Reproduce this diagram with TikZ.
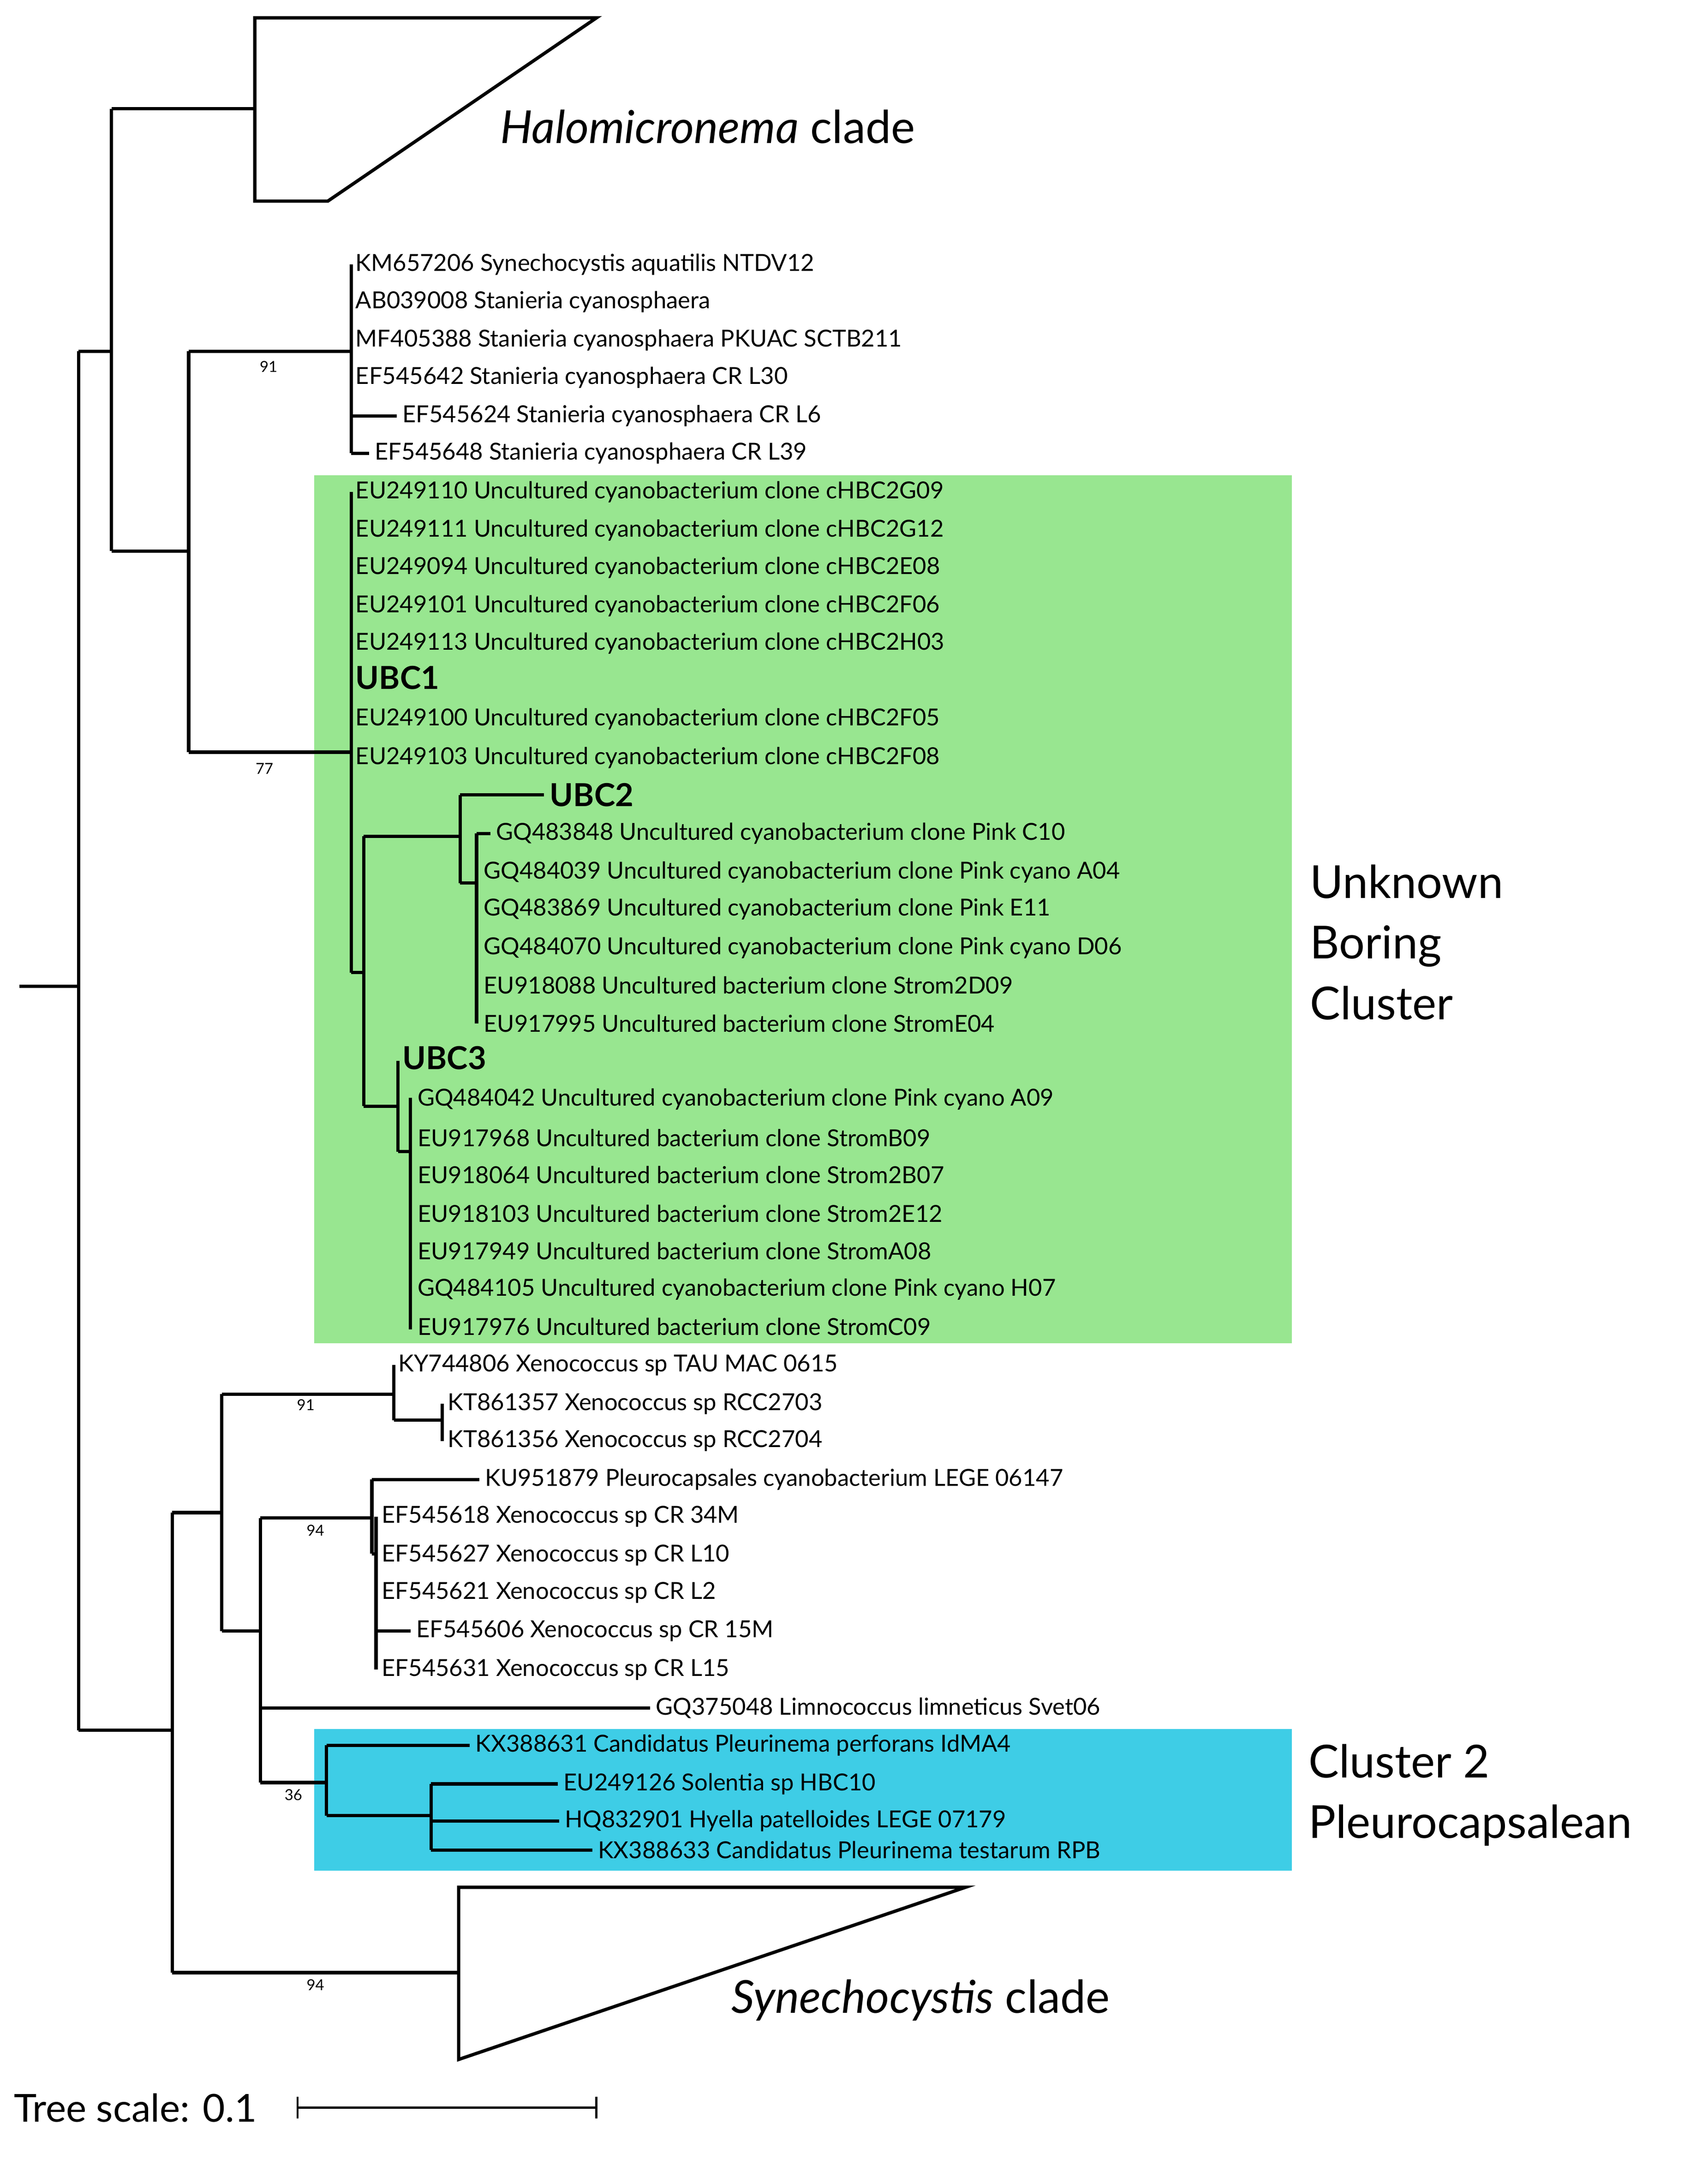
\documentclass[tikz,border=0pt]{standalone}
\usepackage{fontspec}
\setmainfont{Lato}
\begin{document}
\begin{tikzpicture}[x=1pt,y=-1pt,
  br/.style={line width=2.4pt},
  lf/.style={anchor=west,inner sep=3pt,font=\fontsize{17}{20}\selectfont},
  ubc/.style={anchor=west,inner sep=3pt,font=\fontsize{23}{26}\selectfont\bfseries},
  big/.style={anchor=west,inner sep=0pt,font=\fontsize{33}{44}\selectfont},
  bs/.style={font=\fontsize{11}{13}\selectfont,inner sep=0pt}]
\useasboundingbox (0,0) rectangle (1240,1568);
\fill[fill={rgb,255:red,152;green,230;blue,144}] (228,345) rectangle (938,975);
\fill[fill={rgb,255:red,62;green,205;blue,230}] (228,1255) rectangle (938,1358);
% triangles
\draw[br] (185,13) -- (433,13) -- (238,146) -- (185,146) -- cycle;
\node[big] (hal) at (363,92) {\textit{Halomicronema} clade};
\draw[br] (333,1370) -- (701,1370) -- (333,1495) -- cycle;
\node[big] (syn) at (531,1452) {\textit{Synechocystis} clade};
\node[big,align=left] (ubcl) at (951,684) {Unknown\\Boring\\Cluster};
\node[big,align=left] (c2) at (950,1303) {Cluster 2\\Pleurocapsalean};
% backbone
\draw[br] (14,716) -- (57,716);
\draw[br] (57,255) -- (57,1256);
\draw[br] (57,255) -- (81,255);
\draw[br] (81,79) -- (81,400);
\draw[br] (81,79) -- (185,79);
\draw[br] (81,400) -- (137,400);
\draw[br] (137,255) -- (137,546);
\draw[br] (137,255) -- (255,255); \node[bs] at (195,266) {91};
\draw[br] (255,192) -- (255,329);
\foreach \y/\t in {192/KM657206 Synechocystis aquatilis NTDV12,219/AB039008 Stanieria cyanosphaera,247/MF405388 Stanieria cyanosphaera PKUAC SCTB211,274/EF545642 Stanieria cyanosphaera CR L30}
  \node[lf] at (255,\y) {\t};
\draw[br] (255,302) -- (288,302) node[lf] {EF545624 Stanieria cyanosphaera CR L6};
\draw[br] (255,329) -- (268,329) node[lf] {EF545648 Stanieria cyanosphaera CR L39};
\draw[br] (137,546) -- (255,546); \node[bs] at (192,558) {77};
\draw[br] (255,357) -- (255,706);
\foreach \y/\t in {357/EU249110 Uncultured cyanobacterium clone cHBC2G09,385/EU249111 Uncultured cyanobacterium clone cHBC2G12,412/EU249094 Uncultured cyanobacterium clone cHBC2E08,440/EU249101 Uncultured cyanobacterium clone cHBC2F06,467/EU249113 Uncultured cyanobacterium clone cHBC2H03,522/EU249100 Uncultured cyanobacterium clone cHBC2F05,550/EU249103 Uncultured cyanobacterium clone cHBC2F08}
  \node[lf] at (255,\y) {\t};
\node[ubc] at (255,492) {UBC1};
\draw[br] (255,706) -- (264,706);
\draw[br] (264,607) -- (264,803);
\draw[br] (264,607) -- (334,607);
\draw[br] (334,577) -- (334,641);
\draw[br] (334,577) -- (395,577) node[ubc] {UBC2};
\draw[br] (334,641) -- (346,641);
\draw[br] (346,605) -- (346,743);
\draw[br] (346,605) -- (356,605) node[lf] {GQ483848 Uncultured cyanobacterium clone Pink C10};
\foreach \y/\t in {633/GQ484039 Uncultured cyanobacterium clone Pink cyano A04,660/GQ483869 Uncultured cyanobacterium clone Pink E11,688/GQ484070 Uncultured cyanobacterium clone Pink cyano D06,715/EU918088 Uncultured bacterium clone Strom2D09,743/EU917995 Uncultured bacterium clone StromE04}
  \node[lf] at (348,\y) {\t};
\draw[br] (264,803) -- (289,803);
\draw[br] (289,770) -- (289,836);
\node[ubc] at (289,768) {UBC3};
\draw[br] (289,836) -- (298,836);
\draw[br] (298,797) -- (298,965);
\foreach \y/\t in {798/GQ484042 Uncultured cyanobacterium clone Pink cyano A09,826/EU917968 Uncultured bacterium clone StromB09,853/EU918064 Uncultured bacterium clone Strom2B07,881/EU918103 Uncultured bacterium clone Strom2E12,908/EU917949 Uncultured bacterium clone StromA08,936/GQ484105 Uncultured cyanobacterium clone Pink cyano H07,963/EU917976 Uncultured bacterium clone StromC09}
  \node[lf] at (300,\y) {\t};
% lower
\draw[br] (57,1256) -- (125,1256);
\draw[br] (125,1098) -- (125,1432);
\draw[br] (125,1098) -- (161,1098);
\draw[br] (161,1012) -- (161,1184);
\draw[br] (161,1012) -- (286,1012); \node[bs] at (222,1020) {91};
\draw[br] (286,991) -- (286,1031);
\node[lf] at (286,991) {KY744806 Xenococcus sp TAU MAC 0615};
\draw[br] (286,1031) -- (321,1031);
\draw[br] (321,1019) -- (321,1046);
\node[lf] at (322,1019) {KT861357 Xenococcus sp RCC2703};
\node[lf] at (322,1046) {KT861356 Xenococcus sp RCC2704};
\draw[br] (161,1184) -- (189,1184);
\draw[br] (189,1102) -- (189,1294);
\draw[br] (189,1102) -- (270,1102); \node[bs] at (229,1111) {94};
\draw[br] (270,1074) -- (270,1128);
\draw[br] (270,1074) -- (348,1074) node[lf] {KU951879 Pleurocapsales cyanobacterium LEGE 06147};
\draw[br] (270,1128) -- (273,1128);
\draw[br] (273,1101) -- (273,1212);
\foreach \y/\t in {1101/EF545618 Xenococcus sp CR 34M,1129/EF545627 Xenococcus sp CR L10,1156/EF545621 Xenococcus sp CR L2,1212/EF545631 Xenococcus sp CR L15}
  \node[lf] at (274,\y) {\t};
\draw[br] (273,1184) -- (298,1184) node[lf] {EF545606 Xenococcus sp CR 15M};
\draw[br] (189,1240) -- (472,1240) node[lf] {GQ375048 Limnococcus limneticus Svet06};
\draw[br] (189,1294) -- (237,1294); \node[bs] at (213,1303) {36};
\draw[br] (237,1267) -- (237,1318);
\draw[br] (237,1267) -- (341,1267) node[lf] {KX388631 Candidatus Pleurinema perforans IdMA4};
\draw[br] (237,1318) -- (313,1318);
\draw[br] (313,1295) -- (313,1343);
\draw[br] (313,1295) -- (405,1295) node[lf] {EU249126 Solentia sp HBC10};
\draw[br] (313,1322) -- (406,1322) node[lf] {HQ832901 Hyella patelloides LEGE 07179};
\draw[br] (313,1343) -- (430,1343) node[lf] {KX388633 Candidatus Pleurinema testarum RPB};
\draw[br] (125,1432) -- (333,1432); \node[bs] at (229,1441) {94};
% scale
\node[anchor=west,inner sep=0pt,font=\fontsize{28}{32}\selectfont] (ts) at (10,1530) {Tree scale: 0.1};
\draw[line width=1.5pt] (216,1530) -- (433,1530) (216,1522) -- (216,1538) (433,1522) -- (433,1538);
\end{tikzpicture}
\end{document}
